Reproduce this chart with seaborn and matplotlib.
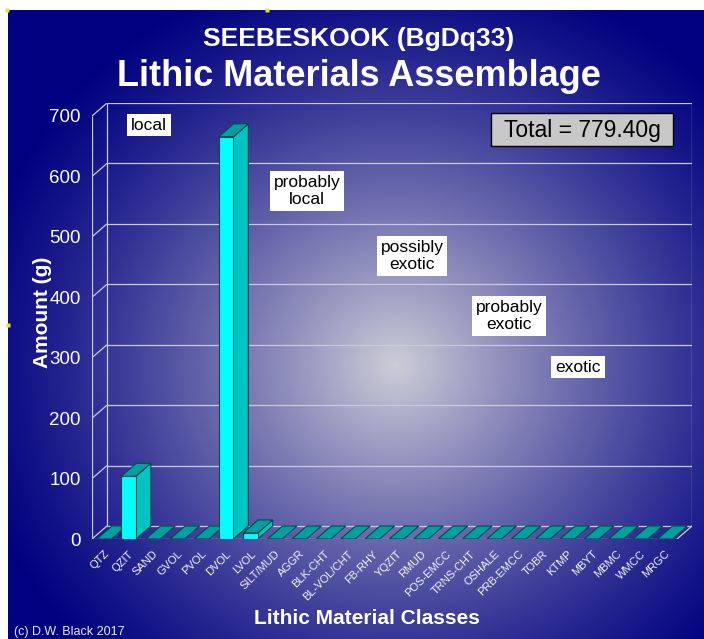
import numpy as np
import matplotlib
matplotlib.use("Agg")
import matplotlib.pyplot as plt
from matplotlib.patches import Polygon, Rectangle
import seaborn as sns

# ---- data -------------------------------------------------------------
categories = ["QTZ", "QZIT", "SAND", "GVOL", "PVOL", "DVOL", "LVOL", "SILT/MUD",
              "AGGR", "BLK-CHT", "BL-VOL/CHT", "FB-RHY", "YQZIT", "RMUD",
              "POS-EMCC", "TRNS-CHT", "OSHALE", "PRB-EMCC", "TOBR", "KTMP",
              "MBYT", "MBMC", "WMCC", "MRGC"]
amounts = [0.0, 103.8, 0.0, 0.0, 0.0, 665.6, 10.0, 0.0,
           0.0, 0.0, 0.0, 0.0, 0.0, 0.0,
           0.0, 0.0, 0.0, 0.0, 0.0, 0.0,
           0.0, 0.0, 0.0, 0.0]
y_ticks = [0, 100, 200, 300, 400, 500, 600, 700]
zones = ["local", "probably\nlocal", "possibly\nexotic", "probably\nexotic", "exotic"]
total_label = f"Total = {sum(amounts):.2f}g"

# ---- styling ----------------------------------------------------------
FONT = ["Liberation Sans", "DejaVu Sans"]
plt.rcParams["font.family"] = FONT
FRONT, SIDE, TOP, EDGE = "#00FFFF", "#00C4C4", "#00A0A0", "#004848"
GRID = "#CACADC"

W, H, DPI = 704, 639, 100
fig = plt.figure(figsize=(W / DPI, H / DPI), dpi=DPI)

# radial slide background
bg = fig.add_axes([0, 0, 1, 1], zorder=-10)
yy, xx = np.mgrid[0:H, 0:W]
r = np.hypot(xx - 395, (yy - 365) * 1.05)
t = np.clip(1 - r / 440, 0, 1) ** 1.25
navy = np.array([0, 0, 128]) / 255
light = np.array([205, 205, 215]) / 255
img = navy[None, None, :] * (1 - t[..., None]) + light[None, None, :] * t[..., None]
img[:10, :, :] = 1.0
img[:, :8, :] = 1.0
bg.imshow(img, extent=[0, W, H, 0], aspect="auto", interpolation="bilinear")
bg.set_xlim(0, W)
bg.set_ylim(H, 0)
bg.axis("off")
for px, py in [(7, 10), (267, 10), (8, 325)]:
    bg.plot(px, py, "s", ms=2.5, color="#E8E040", mec="none")

# total box outline, drawn in pixel space on the background layer
bg.add_patch(Rectangle((491, 113), 182, 33, fc="#C8C8C8", ec="black", lw=1, zorder=5))

# main chart axes: front plane spans x 92..678, back wall reaches 692 / 103
left, right, top, bottom = 92, 692, 103, 539
ax = fig.add_axes([left / W, 1 - bottom / H, (right - left) / W, (bottom - top) / H])
ax.patch.set_alpha(0)

n = len(categories)
ymax = 700
dx, dy = 0.614, 21.5  # depth offset: category units / grams

sns.barplot(x=categories, y=amounts, ax=ax, color=FRONT, width=0.6,
            edgecolor=EDGE, linewidth=0.8, saturation=1)

x0, x1 = -0.5, n - 0.5
ax.set_xlim(x0, x1 + dx)
ax.set_ylim(0, ymax + dy)

# walls, floor and gridlines
lk = dict(color=GRID, lw=0.9, zorder=1, solid_capstyle="butt")
ax.plot([x0, x0], [0, ymax], **lk)
ax.plot([x0, x1], [0, 0], **lk)
ax.plot([x1, x1 + dx], [0, dy], **lk)
ax.plot([x1 + dx, x1 + dx], [dy, ymax + dy], **lk)
ax.plot([x0 + dx, x0 + dx], [dy, ymax + dy], **lk)
for v in y_ticks:
    ax.plot([x0, x0 + dx], [v, v + dy], **lk)
    ax.plot([x0 + dx, x1 + dx], [v + dy, v + dy], **lk)

# give every bar its side and top faces
for i, patch in enumerate(ax.patches):
    bx, bw, h = patch.get_x(), patch.get_width(), patch.get_height()
    z = 3 + i * 0.01
    patch.set_zorder(z + 0.005)
    if h > 0:
        side = Polygon([(bx + bw, 0), (bx + bw + dx, dy), (bx + bw + dx, h + dy), (bx + bw, h)],
                       closed=True, fc=SIDE, ec=EDGE, lw=0.8, zorder=z)
        ax.add_patch(side)
    else:
        patch.set_visible(False)
    topf = Polygon([(bx, h), (bx + bw, h), (bx + bw + dx, h + dy), (bx + dx, h + dy)],
                   closed=True, fc=TOP, ec=EDGE, lw=0.8, zorder=z)
    ax.add_patch(topf)

for s in ax.spines.values():
    s.set_visible(False)
ax.set_yticks(y_ticks)
ax.set_yticklabels([str(v) for v in y_ticks])
ax.tick_params(axis="y", length=0, pad=8, labelsize=13.5, labelcolor="white")
ax.set_xticks(range(n))
ax.set_xticklabels(categories, rotation=45, ha="right", va="top",
                   rotation_mode="anchor")
ax.tick_params(axis="x", length=0, pad=7, labelsize=8, labelcolor="#F4F4FA")
ax.set_xlabel("")
ax.set_ylabel("")

# titles and labels
fig.text(359 / W, 1 - 39 / H, "SEEBESKOOK (BgDq33)", ha="center", va="center",
         color="white", fontsize=19, fontweight="bold")
fig.text(359 / W, 1 - 76 / H, "Lithic Materials Assemblage", ha="center", va="center",
         color="white", fontsize=26, fontweight="bold")
fig.text(42 / W, 1 - 312 / H, "Amount (g)", rotation=90, ha="center", va="center",
         color="white", fontsize=15, fontweight="bold")
fig.text(367 / W, 1 - 618 / H, "Lithic Material Classes", ha="center", va="center",
         color="white", fontsize=15, fontweight="bold")
fig.text(14 / W, 1 - 638 / H, "(c) D.W. Black 2017", ha="left", va="bottom",
         color="#E8E8F0", fontsize=9)

# total label
fig.text(582 / W, 1 - 130 / H, total_label, ha="center", va="center", color="black",
         fontsize=16.5)

# provenance zone labels
zone_pos = [(149, 125), (307, 191), (412, 256), (509, 316), (578, 367)]
for txt, (px, py) in zip(zones, zone_pos):
    fig.text(px / W, 1 - py / H, txt, ha="center", va="center", color="black",
             fontsize=12.5, linespacing=1.15,
             bbox=dict(boxstyle="square,pad=0.22", fc="white", ec="none"))

fig.savefig("out.png", dpi=DPI)
